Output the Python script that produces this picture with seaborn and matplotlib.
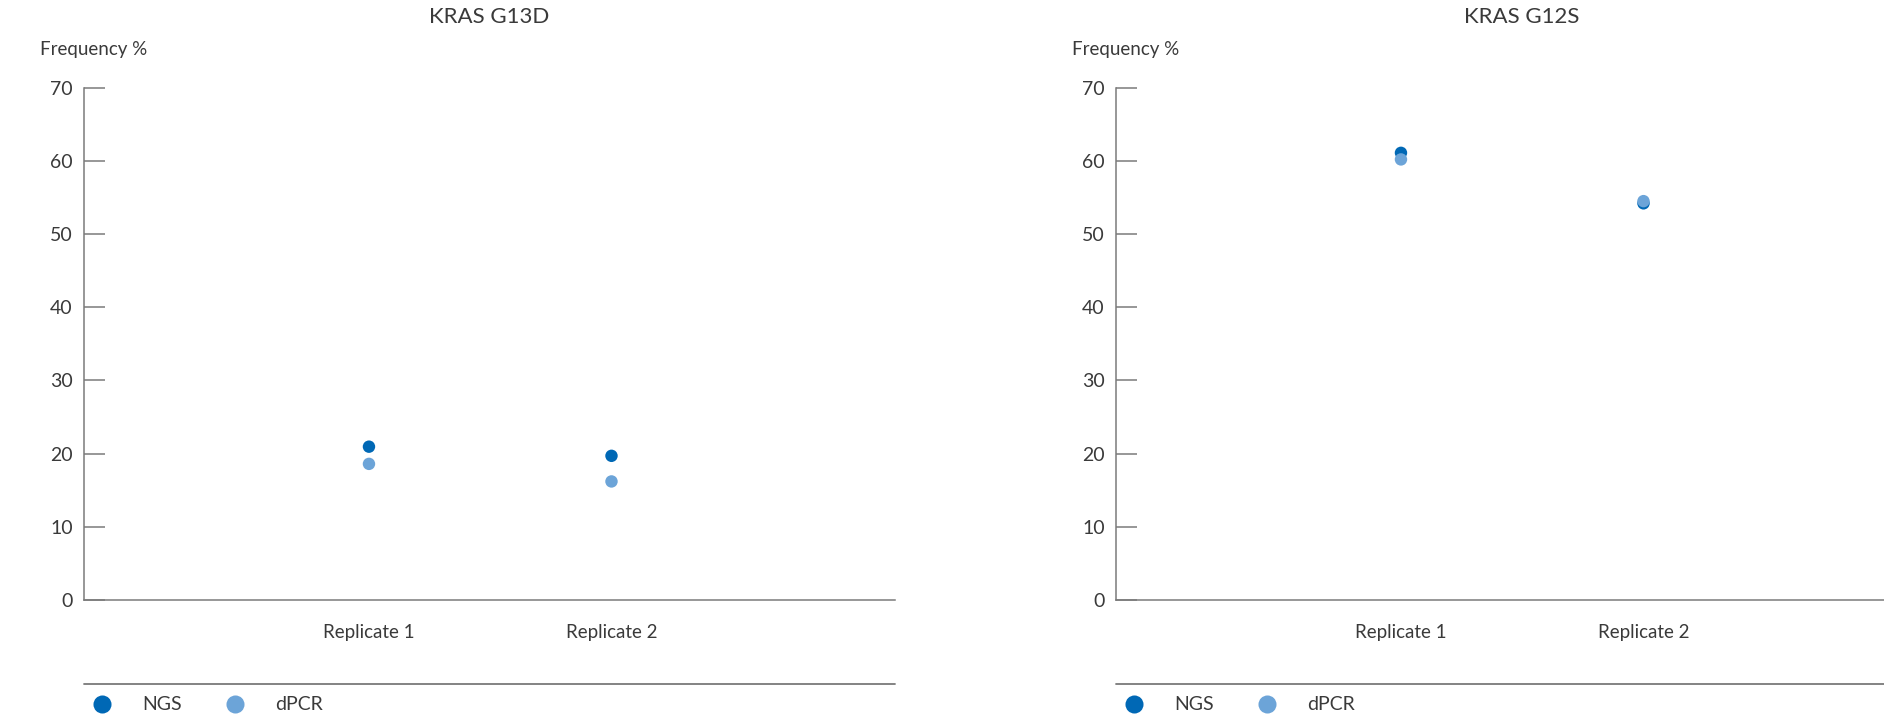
import matplotlib
matplotlib.use("Agg")
import matplotlib.pyplot as plt
import seaborn as sns
import pandas as pd
from matplotlib.lines import Line2D

# ---- data ----
replicates = ["Replicate 1", "Replicate 2"]
methods = ["NGS", "dPCR"]
titles = ["KRAS G13D", "KRAS G12S"]
g13d_ngs = [20.95, 19.7]
g13d_dpcr = [18.6, 16.2]
g12s_ngs = [61.1, 54.2]
g12s_dpcr = [60.2, 54.5]
y_ticks = [0, 10, 20, 30, 40, 50, 60, 70]

colors = {"NGS": "#0068B5", "dPCR": "#6CA4D8"}
TXT = "#3a3a3a"
GRAY = "#7a7a7a"

sns.set_theme(style="white")
plt.rcParams["font.family"] = ["Lato", "DejaVu Sans"]

W, H = 1884, 721
fig = plt.figure(figsize=(W / 100, H / 100), dpi=100)

def build(ngs, dpcr):
    rows = []
    for m, vals in (("NGS", ngs), ("dPCR", dpcr)):
        for r, v in zip(replicates, vals):
            rows.append({"Replicate": r, "Method": m, "Frequency": v})
    return pd.DataFrame(rows)

panels = [(titles[0], g13d_ngs, g13d_dpcr, 84), (titles[1], g12s_ngs, g12s_dpcr, 1116)]
ax_w = 811
y0_px, y70_px = 600, 87.7

for title, ngs, dpcr, left_px in panels:
    ax = fig.add_axes([left_px / W, 1 - y0_px / H, ax_w / W, (y0_px - y70_px) / H])
    df = build(ngs, dpcr)
    sns.scatterplot(data=df, x="Replicate", y="Frequency", hue="Method",
                    hue_order=methods, palette=colors, s=80, linewidth=0,
                    ax=ax, legend=False, zorder=3)
    ax.set_xlim(-1.175, 2.169)
    ax.set_ylim(0, 70)
    ax.set_yticks(y_ticks)
    ax.set_xlabel("")
    ax.set_ylabel("")
    for s in ("top", "right"):
        ax.spines[s].set_visible(False)
    for s in ("left", "bottom"):
        ax.spines[s].set_color(GRAY)
        ax.spines[s].set_linewidth(1.1)
    ax.tick_params(axis="y", direction="in", length=15, width=1.1, color=GRAY,
                   pad=8, labelsize=14, labelcolor=TXT, left=True)
    ax.tick_params(axis="x", length=0, pad=17, labelsize=13.5, labelcolor=TXT)
    ax.set_clip_on(False)

    cx = (left_px + ax_w / 2) / W
    fig.text(cx, 1 - 17 / H, title, ha="center", va="center", fontsize=16, color=TXT)
    fig.text((left_px - 44) / W, 1 - 49 / H, "Frequency %", ha="left", va="center",
             fontsize=13.5, color=TXT)

    # separator line above legend
    fig.add_artist(Line2D([left_px / W, (left_px + ax_w) / W], [1 - 684 / H, 1 - 684 / H],
                          transform=fig.transFigure, color=GRAY, linewidth=1.3))

    handles = [Line2D([0], [0], marker="o", linestyle="", markersize=13,
                      markerfacecolor=colors[m], markeredgewidth=0) for m in methods]
    fig.legend(handles, methods, loc="center left",
               bbox_to_anchor=((left_px + 8) / W, 1 - 705 / H),
               bbox_transform=fig.transFigure, ncol=2, frameon=False,
               fontsize=14, labelcolor=TXT, handlelength=1.0, handletextpad=1.6,
               columnspacing=2.2, borderpad=0, borderaxespad=0)

fig.savefig("out.png", dpi=100)
